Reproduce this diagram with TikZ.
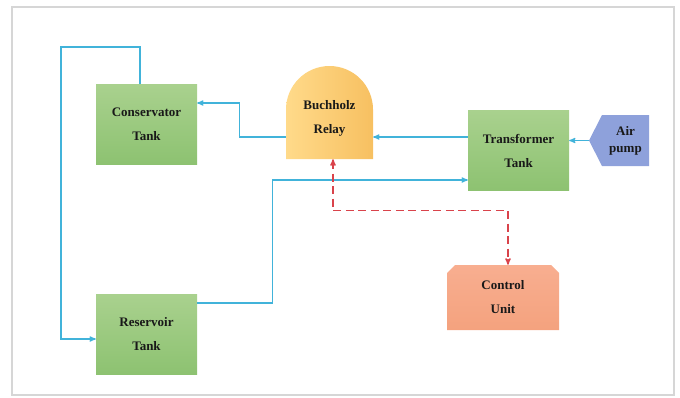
\documentclass[tikz,border=0pt]{standalone}
\usepackage{fontspec}
\setmainfont{Liberation Serif}
\usetikzlibrary{arrows,shapes.symbols}

\definecolor{tanktop}{HTML}{A9D18E}
\definecolor{tankbot}{HTML}{8DC271}
\definecolor{relayleft}{HTML}{FFDA8A}
\definecolor{relayright}{HTML}{F7C061}
\definecolor{unittop}{HTML}{F8AE90}
\definecolor{unitbot}{HTML}{F4A27E}
\definecolor{pumpblue}{HTML}{8EA1DB}
\definecolor{pipeblue}{HTML}{41B3DA}
\definecolor{tripred}{HTML}{D9434B}
\definecolor{framegray}{HTML}{D6D6D6}

\begin{document}
\begin{tikzpicture}[x=1pt,y=1pt,>=stealth',
    every node/.style={font=\fontsize{13}{24}\selectfont\bfseries,align=center,inner sep=0pt,text=black!90},
    tank/.style={rectangle,minimum width=101pt,minimum height=80pt,top color=tanktop,bottom color=tankbot},
    relay/.style={rectangle,minimum width=87pt,minimum height=105pt,
      path picture={\shade[left color=relayleft,right color=relayright]
        ([yshift=-93pt]path picture bounding box.north west) -- ([yshift=-43.5pt]path picture bounding box.north west)
        arc[start angle=180,end angle=0,radius=43.5pt] -- ([yshift=-93pt]path picture bounding box.north east) -- cycle;}},
    unit/.style={rectangle,minimum width=112pt,minimum height=65pt,
      path picture={\shade[top color=unittop,bottom color=unitbot]
        (path picture bounding box.south west) -- ([yshift=-8pt]path picture bounding box.north west)
        -- ([xshift=8pt]path picture bounding box.north west) -- ([xshift=-8pt]path picture bounding box.north east)
        -- ([yshift=-8pt]path picture bounding box.north east) -- (path picture bounding box.south east) -- cycle;}},
    pump/.style={signal,signal to=west,signal pointer angle=126,minimum width=60pt,minimum height=51pt,
      fill=pumpblue,font=\fontsize{13}{17}\selectfont\bfseries},
    pipe/.style={draw=pipeblue,line width=1.2pt},
    trip/.style={draw=tripred,line width=1.3pt,dash pattern=on 8pt off 4.5pt}]
\useasboundingbox (0,0) rectangle (680,-397);
\draw[framegray,line width=1.5pt] (12,-7) rectangle (674,-395);

% Create nodes for the diagram
\node[tank] (conservator) at (146.5,-124.5) {Conservator\\Tank};
\node[tank] (reservoir) at (146.5,-334.5) {Reservoir\\Tank};
\node[relay] (relay) at (329.5,-118.5) {Buchholz\\Relay};
\node[tank] (transformer) at (518.5,-150.5) {Transformer\\Tank};
\node[pump] (pump) at (625.5,-140.5) {Air\\pump};
\node[unit] (control) at (503,-297.5) {Control\\Unit};
\coordinate (bend) at (61,-47);

% Create connectors for the diagram
\draw[pipe,->] ([xshift=-6.5pt]conservator.north) |- (bend) |- ([yshift=-4.5pt]reservoir.west);
\draw[pipe,->] ([yshift=-18.5pt]relay.west) -- ++(-46,0) |- ([yshift=21.5pt]conservator.east);
\draw[pipe,->] ([yshift=13.5pt]transformer.west) -- ([yshift=13.5pt]transformer.west -| relay.east);
\draw[pipe,->] (pump.west) -- (pump.west -| transformer.east);
\draw[pipe,->] ([yshift=31.5pt]reservoir.east) -- ++(75,0) |- ([yshift=-29.5pt]transformer.west);
\draw[trip,<->] ([xshift=3.5pt,yshift=12pt]relay.south) -- ++(0,-51.5) -| ([xshift=5pt]control.north);
\end{tikzpicture}
\end{document}
